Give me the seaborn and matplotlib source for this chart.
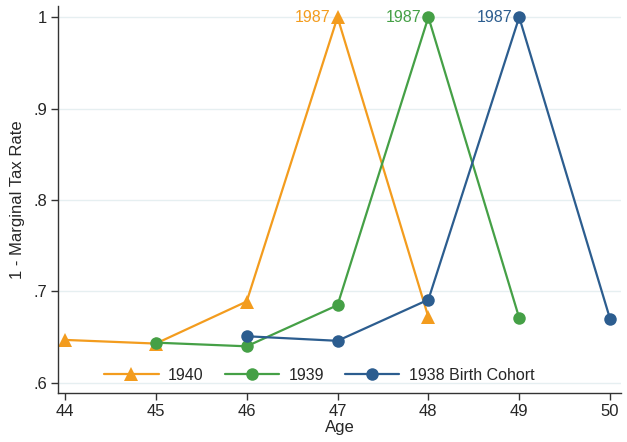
import matplotlib
matplotlib.use("Agg")
import matplotlib.pyplot as plt
import seaborn as sns
import pandas as pd

# cohort data
age_1940 = [44, 45, 46, 47, 48]
rate_1940 = [0.647, 0.643, 0.689, 1.0, 0.672]
age_1939 = [45, 46, 47, 48, 49]
rate_1939 = [0.644, 0.640, 0.685, 1.0, 0.671]
age_1938 = [46, 47, 48, 49, 50]
rate_1938 = [0.651, 0.646, 0.691, 1.0, 0.670]

cohorts = ["1940", "1939", "1938 Birth Cohort"]
peak_label = "1987"
colors = {"1940": "#f39c1e", "1939": "#45a046", "1938 Birth Cohort": "#2c5d8f"}
markers = {"1940": "^", "1939": "o", "1938 Birth Cohort": "o"}
msize = {"1940": 10.5, "1939": 9, "1938 Birth Cohort": 9}

df = pd.concat([
    pd.DataFrame({"age": age_1940, "rate": rate_1940, "cohort": "1940"}),
    pd.DataFrame({"age": age_1939, "rate": rate_1939, "cohort": "1939"}),
    pd.DataFrame({"age": age_1938, "rate": rate_1938, "cohort": "1938 Birth Cohort"}),
])

sns.set_style("white")
plt.rcParams['font.family'] = ['Liberation Sans', 'DejaVu Sans']

fig = plt.figure(figsize=(6.27, 4.42), dpi=100)
ax = fig.add_axes([0.0925, 0.111, 0.898, 0.875])

for c in cohorts:
    sub = df[df.cohort == c]
    sns.lineplot(data=sub, x="age", y="rate", ax=ax, color=colors[c],
                 marker=markers[c], markersize=msize[c], markeredgewidth=0,
                 linewidth=1.6, label=c)
    pk = sub.loc[sub.rate.idxmax()]
    ax.text(pk.age - 0.08, pk.rate, peak_label, color=colors[c],
            ha="right", va="center", fontsize=11.5)

ax.set_xlim(43.923, 50.121)
ax.set_ylim(0.589, 1.012)
ax.set_xticks(range(44, 51))
yt = [0.6, 0.7, 0.8, 0.9, 1.0]
ax.set_yticks(yt)
ax.set_yticklabels([".6", ".7", ".8", ".9", "1"])
ax.yaxis.grid(True, color="#e6eff1", linewidth=1)
ax.set_axisbelow(True)
for s in ["top", "right"]:
    ax.spines[s].set_visible(False)
for s in ["left", "bottom"]:
    ax.spines[s].set_color("#333333")
    ax.spines[s].set_linewidth(1.0)
ax.tick_params(axis="both", labelsize=12, length=5, width=1, color="#333333",
               bottom=True, left=True, pad=3)
ax.set_xlabel("Age", fontsize=12, labelpad=1)
ax.set_ylabel("1 - Marginal Tax Rate", fontsize=12, labelpad=6)

ax.legend(loc="center", bbox_to_anchor=(0.464, 0.045), ncol=3, frameon=False,
          fontsize=11.5, handlelength=3.4, columnspacing=1.3, handletextpad=0.6)

fig.savefig("out.png", dpi=100)
